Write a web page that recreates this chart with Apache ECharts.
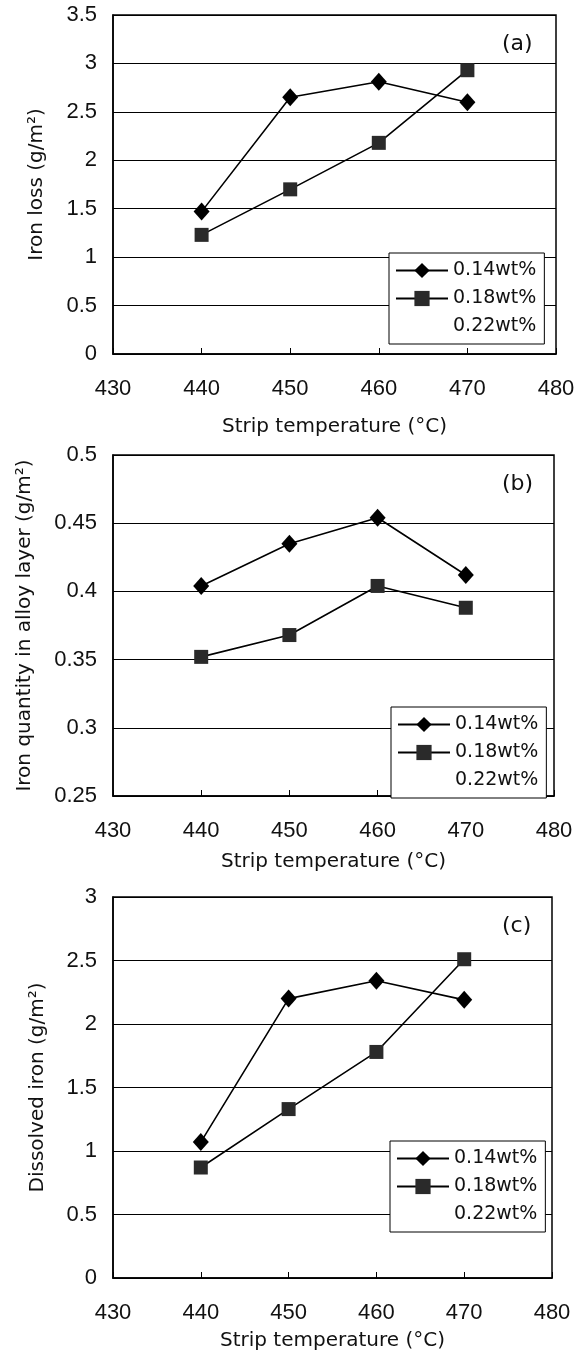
<!DOCTYPE html>
<html>
<head>
<meta charset="utf-8">
<script src="https://cdn.jsdelivr.net/npm/echarts@6/dist/echarts.min.js"></script>
<style>
html,body{margin:0;padding:0;background:#fff;}
#chart{width:584px;height:1358px;}
</style>
</head>
<body>
<div id="chart"></div>
<script>
// ---- data ----
const temps = [440, 450, 460, 470];
const seriesNames = ['0.14wt%', '0.18wt%', '0.22wt%'];
const ironLoss014 = [1.47, 2.65, 2.81, 2.60];
const ironLoss018 = [1.23, 1.70, 2.18, 2.93];
const alloy014 = [0.404, 0.435, 0.454, 0.412];
const alloy018 = [0.352, 0.368, 0.404, 0.388];
const dissolved014 = [1.07, 2.20, 2.34, 2.19];
const dissolved018 = [0.87, 1.33, 1.78, 2.51];
const panelLabels = ['(a)', '(b)', '(c)'];
const yTitles = ['Iron loss (g/m\u00B2)', 'Iron quantity in alloy layer (g/m\u00B2)', 'Dissolved iron (g/m\u00B2)'];
const xTitle = 'Strip temperature (\u00B0C)';
const yRanges = [[0, 3.5, 0.5], [0.25, 0.5, 0.05], [0, 3, 0.5]];
const xRange = [430, 480, 10];

const grids = [
  {left: 113, top: 15, width: 443, height: 339},
  {left: 113, top: 455, width: 441, height: 341},
  {left: 113, top: 897, width: 439, height: 381}
];
const legendPos = [
  {left: 389, top: 253},
  {left: 391, top: 707},
  {left: 390, top: 1141}
];
const yNameGap = [66, 78, 65];
const xNameGap = [63, 56, 53];

const pairs = (xs, ys) => xs.map((x, i) => [x, ys[i]]);
const panelData = [[ironLoss014, ironLoss018], [alloy014, alloy018], [dissolved014, dissolved018]];

const tickFont = "'Liberation Sans Narrow', 'Liberation Sans', sans-serif";

const chart = echarts.init(document.getElementById('chart'), null, {renderer: 'canvas'});

const option = {
  backgroundColor: '#fff',
  animation: false,
  grid: grids.map(g => Object.assign({show: true, borderColor: '#000', borderWidth: 1.5, backgroundColor: 'transparent'}, g)),
  xAxis: grids.map((g, i) => ({
    type: 'value', gridIndex: i, min: xRange[0], max: xRange[1], interval: xRange[2],
    name: xTitle, nameLocation: 'middle', nameGap: xNameGap[i],
    nameTextStyle: {fontFamily: 'DejaVu Sans', fontSize: 20, color: '#111'},
    axisLine: {show: true, onZero: false, lineStyle: {color: '#000', width: 1.5}},
    axisTick: {show: true, inside: true, length: 6, lineStyle: {color: '#000', width: 1}},
    axisLabel: {fontFamily: tickFont, fontSize: 22, color: '#111', margin: 24},
    splitLine: {show: false}
  })),
  yAxis: grids.map((g, i) => ({
    type: 'value', gridIndex: i, min: yRanges[i][0], max: yRanges[i][1], interval: yRanges[i][2],
    name: yTitles[i], nameLocation: 'middle', nameGap: yNameGap[i],
    nameTextStyle: {fontFamily: 'DejaVu Sans', fontSize: 20, color: '#111'},
    axisLine: {show: true, lineStyle: {color: '#000', width: 1.5}},
    axisTick: {show: false},
    axisLabel: {fontFamily: tickFont, fontSize: 22, color: '#111', margin: 16},
    splitLine: {show: true, lineStyle: {color: '#000', width: 1}}
  })),
  legend: legendPos.map(p => ({
    left: p.left, top: p.top, orient: 'vertical',
    data: seriesNames, selectedMode: false,
    backgroundColor: '#fff', borderColor: '#000', borderWidth: 1,
    padding: [8, 8, 8, 6], itemGap: 9, itemWidth: 52, itemHeight: 19,
    textStyle: {fontFamily: 'DejaVu Sans', fontSize: 19, color: '#111'},
    z: 10
  })),
  graphic: grids.map((g, i) => ({
    type: 'text', left: 502, top: g.top + 18,
    style: {text: panelLabels[i], font: '22px "DejaVu Sans"', fill: '#111'}
  })),
  series: []
};

panelData.forEach((pd, i) => {
  option.series.push({
    name: seriesNames[0], type: 'line', xAxisIndex: i, yAxisIndex: i,
    data: pairs(temps, pd[0]), symbol: 'diamond', symbolSize: [16, 18],
    lineStyle: {color: '#000', width: 1.6}, itemStyle: {color: '#000'}, z: 3
  });
  option.series.push({
    name: seriesNames[1], type: 'line', xAxisIndex: i, yAxisIndex: i,
    data: pairs(temps, pd[1]), symbol: 'rect', symbolSize: 14,
    lineStyle: {color: '#000', width: 1.6}, itemStyle: {color: '#2a2a2a'}, z: 3
  });
});
option.series.push({
  name: seriesNames[2], type: 'line', xAxisIndex: 0, yAxisIndex: 0,
  data: [], symbol: 'none',
  lineStyle: {color: 'rgba(0,0,0,0)', width: 0}, itemStyle: {color: 'rgba(0,0,0,0)'}
});

chart.setOption(option);
</script>
</body>
</html>
